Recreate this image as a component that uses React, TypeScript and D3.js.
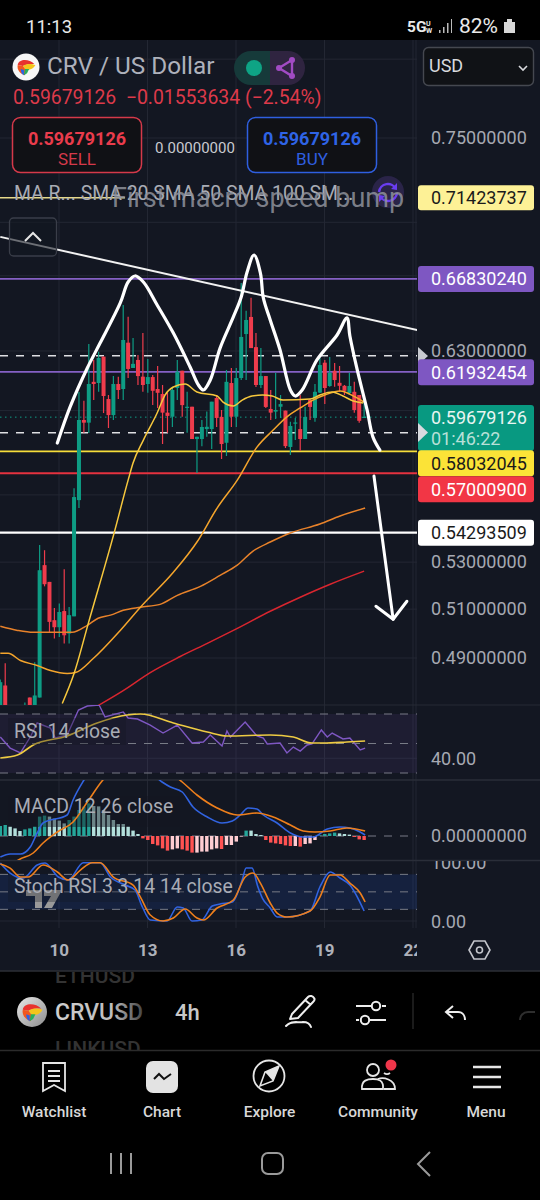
import React from "react";
import * as d3 from "d3";

// ---------- Data (bar index: 0 = the bar at day "10", 18 bars = 3 days on the 4h chart) ----------
const firstBar = -12;
const candleOpen = [
  .4700,.4791,.4580,.4580,.4580,.4650,.4744,.4700,.4744,.5287,.5215,.5054,
  .5025,.5092,.4999,.5070,.5576,.5954,.5941,.6143,.6137,.6271,.6057,.5978,
  .6132,.6107,.6343,.6213,.6254,.6169,.6132,.6167,.6107,.6082,.5990,.5970,
  .6112,.6199,.6013,.6019,.5862,.5862,.5910,.5910,.6062,.5969,.5844,.6137,
  .5970,.6162,.6388,.6478,.6320,.6127,.6172,.6008,.5995,.6019,.6000,.5824,
  .5936,.5910,.5862,.6052,.5964,.6089,.6240,.6122,.6199,.6138,.6123,.6087,
  .6093,.6077,.5964];
const candleHigh = [
  .4815,.4879,.4660,.4660,.4660,.4725,.4744,.4883,.5375,.5352,.5215,.5105,
  .5124,.5269,.5109,.5631,.6092,.6049,.6336,.6254,.6296,.6271,.6077,.6172,
  .6169,.6542,.6479,.6367,.6279,.6393,.6259,.6177,.6223,.6127,.6087,.6118,
  .6254,.6199,.6093,.6019,.5873,.5954,.5995,.6044,.6077,.6003,.6203,.6213,
  .6213,.6661,.6511,.6580,.6393,.6315,.6172,.6102,.6189,.6077,.6000,.5946,
  .5964,.6077,.6019,.6057,.6132,.6264,.6254,.6269,.6239,.6223,.6127,.6189,
  .6143,.6077,.6044];
const candleLow = [
  .4660,.4660,.4520,.4520,.4520,.4620,.4650,.4680,.4744,.5196,.5005,.4979,
  .4985,.4959,.4959,.5070,.5540,.5892,.5891,.6052,.6093,.5988,.5915,.5954,
  .6057,.6052,.6162,.6213,.6127,.6093,.6088,.6027,.6013,.5838,.5892,.5920,
  .6052,.5970,.5892,.5862,.5701,.5828,.5873,.5814,.5920,.5767,.5781,.5920,
  .5920,.6152,.6152,.6315,.6117,.6112,.6013,.5954,.5959,.5964,.5819,.5786,
  .5857,.5806,.5862,.5954,.5946,.6087,.6032,.6118,.6118,.6093,.6077,.6077,
  .5990,.5941,.5964];
const candleClose = [
  .4804,.4700,.4620,.4620,.4620,.4700,.4700,.4752,.5265,.5205,.5047,.5025,
  .5088,.4992,.5075,.5590,.5954,.5941,.6132,.6132,.6264,.6072,.5978,.6132,
  .6102,.6357,.6208,.6234,.6172,.6127,.6167,.6098,.6088,.5990,.5974,.6102,
  .6194,.6027,.6019,.5862,.5873,.5920,.5921,.6044,.5964,.5838,.6143,.5970,
  .6162,.6373,.6462,.6315,.6127,.6172,.6018,.5990,.6003,.6032,.5828,.5925,
  .5942,.5862,.5969,.6018,.6093,.6228,.6112,.6188,.6152,.6123,.6098,.6122,
  .6003,.5950,.5970];

const sma20Bars = [.6,3,5.9,11.2,14,15,17.1,19.9,21.5,23.2,25.6,28,32.1,33.3,35.4,37.2,39.2,41.3,43.3,45.5,51,53,55.5,57.7,59.8,61.8];
const sma20Vals = [.4721,.4838,.5041,.5432,.5668,.5748,.5857,.5988,.6077,.6117,.6132,.6092,.6072,.6042,.6023,.6052,.6072,.6077,.6072,.6052,.6057,.6077,.6092,.6072,.6047,.6037];
const sma50Bars = [-12,-10.4,-7.9,-4.5,-1.8,1.6,3.3,6.9,12.4,16.5,23.2,28,32.1,36.2,40.2,43.5,46.3,49,51.6,54,57.1,60.2,62];
const sma50Vals = [.4919,.4919,.4890,.4870,.4850,.4838,.4842,.4898,.5012,.5108,.5256,.5388,.5540,.5668,.5823,.5905,.5969,.6013,.6052,.6077,.6097,.6067,.6042];
const sma100Bars = [-12,-8.5,-5.3,-1.2,2.6,5.7,7.9,10.4,13,16.5,20.5,24,28.7,32.7,36.2,39.4,42.9,47,53,57.1,62.2];
const sma100Vals = [.5029,.5012,.5004,.5004,.5004,.5033,.5062,.5075,.5095,.5108,.5120,.5158,.5196,.5243,.5287,.5348,.5388,.5428,.5468,.5504,.5540];
const sma200Bars = [7.9,13,18.5,24.6,30.1,35.4,42.9,49,55.1,62];
const sma200Vals = [.4713,.4771,.4842,.4906,.4959,.5012,.5091,.5150,.5205,.5261];

const drawnCurveBars = [-.4,2.2,5.7,8.3,12.4,14,15.4,17.1,19.9,23.2,26.6,28.3,29.3,30.7,32.7,35.4,37,38.2,39.6,40.9,41.5,42.9,44.9,47,48,49.4,52.4,56.5,58.5,59.1,60.6,62.6,63.8,65.2];
const drawnCurveVals = [.5843,.6018,.6213,.6341,.6553,.6666,.6699,.6666,.6542,.6393,.6218,.6127,.6102,.6152,.6315,.6478,.6585,.6721,.6815,.6715,.6580,.6462,.6305,.6102,.6072,.6102,.6254,.6383,.6473,.6378,.6203,.6003,.5871,.5809];
const trendBars = [-12,72.8];
const trendVals = [.6917,.6409];
const arrowBars = [64,67.9];
const arrowVals = [.5687,.5058];
const arrowHeadBars = [64.4,67.9,70.7];
const arrowHeadVals = [.5112,.5058,.5133];

const rsiBars = [-12,-10,-7.9,-5.9,-4.5,-1.8,-.8,1.6,3.9,5.7,8.1,9.3,13,14,15.9,18.5,21.1,24,27,29.3,30.7,33.1,34.1,34.8,37.8,40.2,41.5,42.3,44.9,46.3,47.6,49,50.4,51.4,53.3,54.5,55.5,57.7,59.1,61.2,62.2];
const rsiVals = [54.4,46.9,43.6,54.4,63.9,60.5,53.7,55.8,72.7,75.4,76.1,68,71.4,67.3,66.6,62.5,57.1,62.5,50.3,51,55.8,48.3,58.5,54.4,64.6,55.1,53.7,49.7,50.3,43.6,47.6,44.9,49,49.7,59.2,54.4,57.1,53.1,53.7,45.6,46.9];
const rsiMaBars = [-12,-8.5,-5.3,1.6,7.7,13.8,16.5,23.2,30.1,34.1,42.9,47.6,51.4,53.7,58.5,62.2];
const rsiMaVals = [40.2,42.2,49,55.1,63.9,69.3,70,63.9,57.8,55.1,55.8,54.4,50.3,50.3,51,51.7];

// MACD values, in thousandths
const macdHist = [
  5,5.5,4.7,3.8,2.5,3.3,3.8,4.7,9.7,10.2,9.7,8.7,
  7.7,6.3,8,9.7,13,14.7,16.3,15,14.8,13,10.5,8,
  6,6,4.7,2.7,1,-1.2,-2,-4,-4.7,-6.2,-7.3,-6.7,
  -6.2,-6.7,-7.3,-8.3,-8.3,-7.8,-7.8,-6.7,-6.2,-6.5,-4.5,-4.5,
  -2.8,-.3,2.7,2.7,1,.5,-2,-3.3,-3.7,-4,-4.7,-5,
  -5,-5.3,-4,-3.7,-2,.3,1,1.3,1.7,1.3,1,.7,
  -.5,-1.7,-2];
const macdBars = [-12,-10,-7.9,-5.9,-4.5,-3.3,1.6,2.8,4.9,12.8,20.9,22.6,25,27.2,30.1,33.1,35.2,36.8,38.4,40.2,41.5,44.3,47,49.6,51.6,54.5,57.1,59.1,61.2,62.2];
const macdVals = [-10.5,-9,-9,-5.5,1.5,6.5,10.5,18,27.5,45.5,27,24.5,22,14.5,9.5,6.5,7.5,10.5,14,13.5,10.5,6.5,1.5,-.5,-.5,3.5,4.5,4,2,.5];
const signalBars = [-12,-8.3,-5.3,-3.3,-.4,2.8,5.7,8.7,16.5,25,28,32.1,36.2,40.2,43.5,47,49.6,52,55.1,58.5,62.2];
const signalVals = [-19.5,-12,-8.5,-3.5,2,7,17,27.5,40.5,27,20.5,14,10.5,11.5,9.5,5.5,2.5,2,2.5,4,2.5];

const stochKBars = [-12,-10,-7.3,-4.5,-2.9,-.2,1.8,4.9,8.3,10.4,13.4,15.4,16.9,18.5,21.9,24,25.2,27,29,31.1,32.7,35.2,37.2,38,39.2,40.4,41.3,42.9,44.3,46.3,51,53,55.1,57.1,59.1,62];
const stochKVals = [99.4,82.3,73.7,96,99.4,75.4,70.3,100,100,75.4,61.7,53.1,24,1.7,0,24,22.3,0,1.7,25.7,29.1,32.6,70.3,90.8,90.8,58.3,39.4,22.3,6.9,6.9,17.1,58.3,84,73.7,61.7,17.1];
const stochDBars = [-12,-10,-7.9,-6.3,-3.3,-.4,1.8,4.3,6.7,8.3,11,15,16.5,18.5,21.1,23.2,25.6,28,29.3,32.1,35.4,37.8,39.4,40.9,42.9,44.3,46.3,51,53,55.1,57.1,59.1,61.2,62.2];
const stochDVals = [97.7,90.8,75.4,75.4,96,84,70.3,87.4,100,100,75.4,61.7,41.1,10.3,0,5.1,20.6,5.1,1.7,22.3,36,75.4,82.3,65.1,30.9,13.7,6.9,17.1,41.1,78.8,78.8,65.1,48,32.6];

const dayLabels = ["10","13","16","19","22"];
const dayBars = [0,18,36,54,72];
const priceTicks = [0.75,0.63,0.53,0.51,0.49];
const priceGrid = [0.8,0.75,0.7,0.67,0.63,0.6,0.56,0.53,0.51,0.49];
const solidLevelVals = [0.6683024,0.61932454,0.58032045,0.570009,0.54293509];
const solidLevelColors = ["#8560c4","#8560c4","#f6dd3a","#e5323f","#ffffff"];
const dashedLevels = [0.6276,0.5892];
const currentPrice = 0.59679126;

// ---------- Scales ----------
const x = d3.scaleLinear().domain([firstBar, 72]).range([0.3, 413.3]);
const yP = d3.scaleLog().domain([0.75, 0.49]).range([138, 658]);
const yRsi = d3.scaleLinear().domain([30, 70]).range([773, 714]);
const yMacd = d3.scaleLinear().domain([0, 10]).range([836, 816]);
const yStoch = d3.scaleLinear().domain([0, 100]).range([921, 862.7]);

const pathOf = (xs: number[], vs: number[], y: any, curve: any = d3.curveLinear) =>
  d3.line<number>().x((b) => x(b)).y((_, i) => y(vs[i])).curve(curve)(xs) as string;

const FONT = "Roboto, sans-serif";
const BG = "#131722";
const GRID = "#232733";
const AXIS = "#a6a9b2";
const UP = "#0e9c84";
const DOWN = "#ef3c4c";
const PANEL_R = 417;

const T = (p: any) => <text fontFamily={FONT} {...p} />;

function Logo({ cx, cy, r, silver }: { cx: number; cy: number; r: number; silver?: boolean }) {
  const k = r / 13;
  return (
    <g transform={`translate(${cx},${cy}) scale(${k})`}>
      <circle r={13} fill={silver ? "url(#silver)" : "#f7f7f7"} />
      <path d="M-8,-2 C-7,-8 3,-8 8,-3 C5,-3 0,-3 -3,-1 Z" fill="#e8322e" />
      <path d="M-3,-1 C1,-4 6,-3 9,-2 C8,1 4,3 0,3 Z" fill="#f4c51c" />
      <path d="M-8,-2 L-3,-1 L0,3 L-1,8 C-5,7 -9,3 -8,-2 Z" fill="#f2571e" />
      <path d="M-1,2 L3,2 L1,6 L-2,8 Z" fill="#27ae60" />
      <path d="M-5,2 L-2,3 L-2,8 C-4,7 -5,5 -5,2 Z" fill="#2a63e6" />
    </g>
  );
}

function PriceLabel({ v, bg, fg, dy = 0, h = 26 }: { v: string; bg: string; fg: string; dy?: number; h?: number }) {
  const cy = yP(parseFloat(v)) + dy;
  return (
    <g>
      <rect x={418} y={cy - h / 2} width={116} height={h} rx={3} fill={bg} />
      <T x={431} y={cy + 6.3} fontSize={18} fill={fg}>{v}</T>
    </g>
  );
}

export default function App() {
  const barIdx = candleOpen.map((_, i) => i + firstBar);
  return (
    <svg width={540} height={1200} viewBox="0 0 540 1200"
      style={{ position: "fixed", left: 0, top: 0, display: "block", background: "#000" }}>
      <defs>
        <clipPath id="main"><rect x={0} y={40} width={PANEL_R} height={665} /></clipPath>
        <clipPath id="rsi"><rect x={0} y={705} width={PANEL_R} height={75} /></clipPath>
        <clipPath id="macd"><rect x={0} y={780} width={PANEL_R} height={80} /></clipPath>
        <clipPath id="stoch"><rect x={0} y={860} width={PANEL_R} height={75} /></clipPath>
        <clipPath id="axisR"><rect x={418} y={861} width={122} height={75} /></clipPath>
        <clipPath id="days"><rect x={0} y={935} width={PANEL_R} height={30} /></clipPath>
        <clipPath id="tool"><rect x={0} y={972} width={170} height={78} /></clipPath>
        <linearGradient id="fade" x1="0" x2="1" y1="0" y2="0">
          <stop offset="0" stopColor="#cfcfcf" />
          <stop offset="0.65" stopColor="#bdbdbd" />
          <stop offset="1" stopColor="#444" />
        </linearGradient>
        <linearGradient id="silver" x1="0" x2="1" y1="0" y2="1">
          <stop offset="0" stopColor="#e8e8e8" />
          <stop offset="1" stopColor="#8c8c8c" />
        </linearGradient>
      </defs>

      {/* chart background */}
      <rect x={0} y={40} width={540} height={931} fill={BG} />

      {/* grid */}
      {dayBars.map((b) => (
        <line key={b} x1={x(b) - 0.3} x2={x(b) - 0.3} y1={40} y2={928} stroke={GRID} strokeWidth={1} />
      ))}
      <line x1={PANEL_R - 1} x2={PANEL_R - 1} y1={40} y2={928} stroke={GRID} />
      {priceGrid.map((p) => (
        <line key={p} x1={0} x2={PANEL_R} y1={yP(p)} y2={yP(p)} stroke={GRID} />
      ))}
      <line x1={0} x2={540} y1={705} y2={705} stroke="#262a35" />
      <line x1={0} x2={540} y1={780} y2={780} stroke="#2a2e39" strokeWidth={1.5} />
      <line x1={0} x2={540} y1={860.5} y2={860.5} stroke="#2a2e39" strokeWidth={1.5} />
      <line x1={0} x2={PANEL_R} y1={yRsi(40)} y2={yRsi(40)} stroke={GRID} />
      <line x1={0} x2={PANEL_R} y1={yStoch(0)} y2={yStoch(0)} stroke={GRID} />

      {/* main pane */}
      <g clipPath="url(#main)">
        {solidLevelVals.map((v, i) => (
          <line key={v} x1={0} x2={PANEL_R} y1={yP(v)} y2={yP(v)} stroke={solidLevelColors[i]}
            strokeWidth={i === 4 ? 2.2 : 1.8} />
        ))}
        {dashedLevels.map((v) => (
          <line key={v} x1={0} x2={PANEL_R} y1={yP(v)} y2={yP(v)} stroke="#dfe0e3" strokeWidth={1.5} strokeDasharray="8 8" />
        ))}
        <line x1={0} x2={PANEL_R} y1={yP(currentPrice)} y2={yP(currentPrice)} stroke={UP} strokeWidth={1} strokeDasharray="1.5 3.5" />
        <line x1={0} x2={125} y1={yP(0.71423737)} y2={yP(0.71423737)} stroke="#e6d98a" strokeWidth={1.5} />

        {barIdx.map((b, i) => {
          const o = candleOpen[i], c = candleClose[i];
          const col = c >= o ? UP : DOWN;
          const top = yP(Math.max(o, c)), bot = yP(Math.min(o, c));
          return (
            <g key={b}>
              <line x1={x(b)} x2={x(b)} y1={yP(candleHigh[i])} y2={yP(candleLow[i])} stroke={col} strokeWidth={1.2} />
              <rect x={x(b) - 2} width={4} y={top} height={Math.max(bot - top, 1)} fill={col} />
            </g>
          );
        })}

        <path d={pathOf(sma200Bars, sma200Vals, yP, d3.curveMonotoneX)} fill="none" stroke="#d9262f" strokeWidth={1.5} />
        <path d={pathOf(sma100Bars, sma100Vals, yP, d3.curveMonotoneX)} fill="none" stroke="#e8822a" strokeWidth={1.5} />
        <path d={pathOf(sma50Bars, sma50Vals, yP, d3.curveMonotoneX)} fill="none" stroke="#f5a52c" strokeWidth={1.5} />
        <path d={pathOf(sma20Bars, sma20Vals, yP, d3.curveMonotoneX)} fill="none" stroke="#f7c83d" strokeWidth={1.5} />

        <path d={pathOf(trendBars, trendVals, yP)} fill="none" stroke="#f2f2f2" strokeWidth={2} />
        <path d={pathOf(drawnCurveBars, drawnCurveVals, yP, d3.curveCatmullRom)} fill="none" stroke="#fff" strokeWidth={3.2} strokeLinecap="round" strokeLinejoin="round" />
        <path d={pathOf(arrowBars, arrowVals, yP)} fill="none" stroke="#fff" strokeWidth={3} strokeLinecap="round" />
        <path d={pathOf(arrowHeadBars, arrowHeadVals, yP)} fill="none" stroke="#fff" strokeWidth={3} strokeLinecap="round" strokeLinejoin="round" />
      </g>

      {/* legend, top */}
      <circle cx={388} cy={192} r={16} fill="#2a2448" />
      <path d="M379,192 A9,9 0 0 1 396,189" fill="none" stroke="#6a3df0" strokeWidth={2.4} />
      <path d="M397,193 A9,9 0 0 1 380,196" fill="none" stroke="#6a3df0" strokeWidth={2.4} />
      <path d="M397,183 L397,190 L391,189 Z M379,202 L379,195 L385,196 Z" fill="#6a3df0" />
      <T x={14} y={199.5} fontSize={19.4} fill="#a9acb5">MA R...  SMA 20 SMA 50 SMA 100 SM...</T>
      <T x={112} y={207} fontSize={27} fill="#8f929c" fillOpacity={0.85}>First macro speed bump</T>
      <rect x={9.5} y={218} width={47} height={38} rx={4} fill={BG} fillOpacity={0.6} stroke="#3a3e49" strokeWidth={1.3} />
      <path d="M25,241 L33,233 L41,241" fill="none" stroke="#e6e6e6" strokeWidth={2} />

      {/* RSI */}
      <rect x={0} y={yRsi(70)} width={PANEL_R} height={yRsi(30) - yRsi(70)} fill="#7e57c2" fillOpacity={0.1} />
      {[70, 50, 30].map((v) => (
        <line key={v} x1={0} x2={PANEL_R} y1={yRsi(v)} y2={yRsi(v)} stroke="#787b86" strokeDasharray="8 8" />
      ))}
      <g clipPath="url(#rsi)">
        <path d={pathOf(rsiBars, rsiVals, yRsi)} fill="none" stroke="#7e57c2" strokeWidth={1.4} />
        <path d={pathOf(rsiMaBars, rsiMaVals, yRsi, d3.curveMonotoneX)} fill="none" stroke="#eecb43" strokeWidth={1.6} />
      </g>
      <rect x={8} y={718} width={118} height={27} fill={BG} fillOpacity={0.35} />
      <T x={14} y={738} fontSize={19.4} fill="#a9acb5">RSI 14 close</T>

      {/* MACD */}
      <line x1={0} x2={PANEL_R} y1={yMacd(0)} y2={yMacd(0)} stroke="#787b86" strokeDasharray="8 8" />
      <g clipPath="url(#macd)">
        {macdHist.map((v, i) => {
          const prev = i > 0 ? macdHist[i - 1] : v - 1;
          const col = v >= 0 ? (v > prev ? "#26a69a" : "#b2dfdb") : (v < prev ? "#ff5252" : "#ffcdd2");
          const y0 = yMacd(0), y1 = yMacd(v);
          return <rect key={i} x={x(i + firstBar) - 1.7} width={3.4} y={Math.min(y0, y1)} height={Math.abs(y1 - y0)} fill={col} />;
        })}
        <rect x={8} y={796} width={172} height={31} fill={BG} fillOpacity={0.45} />
        <path d={pathOf(macdBars, macdVals, yMacd, d3.curveMonotoneX)} fill="none" stroke="#3163e0" strokeWidth={1.6} />
        <path d={pathOf(signalBars, signalVals, yMacd, d3.curveMonotoneX)} fill="none" stroke="#ee7f1c" strokeWidth={1.6} />
      </g>
      <T x={14} y={813} fontSize={19.4} fill="#a9acb5">MACD 12 26 close</T>

      {/* Stoch RSI */}
      <rect x={0} y={yStoch(80)} width={PANEL_R} height={yStoch(20) - yStoch(80)} fill="#2962ff" fillOpacity={0.13} />
      {[80, 50, 20].map((v) => (
        <line key={v} x1={0} x2={PANEL_R} y1={yStoch(v)} y2={yStoch(v)} stroke="#787b86" strokeDasharray="8 8" />
      ))}
      <g clipPath="url(#stoch)">
        <path d="M26,890 H42 V908 H35 V896 H26 Z M44,890 H62 L52,908 H44 L51,896 H44 Z" fill="#9a9a9a" />
        <rect x={8} y={875} width={232} height={27} fill={BG} fillOpacity={0.3} />
        <path d={pathOf(stochKBars, stochKVals, yStoch, d3.curveMonotoneX)} fill="none" stroke="#3163e0" strokeWidth={1.6} />
        <path d={pathOf(stochDBars, stochDVals, yStoch, d3.curveMonotoneX)} fill="none" stroke="#ee7f1c" strokeWidth={1.6} />
      </g>
      <T x={14} y={893} fontSize={19.4} fill="#a9acb5">Stoch RSI 3 3 14 14 close</T>

      {/* right axis */}
      {priceTicks.map((p) => (
        <T key={p} x={431} y={yP(p) + 6.3} fontSize={18} fill={AXIS}>{p.toFixed(8)}</T>
      ))}
      <path d="M418,347 L428,356 L418,365 Z" fill="#c8cad0" />
      <PriceLabel v="0.71423737" bg="#fdf196" fg="#1a1a1a" dy={0} h={25} />
      <PriceLabel v="0.66830240" bg="#7e57c2" fg="#fff" />
      <PriceLabel v="0.61932454" bg="#7e57c2" fg="#fff" dy={0.5} />
      <rect x={418} y={405} width={116} height={46} rx={3} fill="#089981" />
      <T x={431} y={424} fontSize={18} fill="#e8f5f2">{currentPrice.toFixed(8)}</T>
      <T x={431} y={445} fontSize={18} fill="#b8e0d8">01:46:22</T>
      <path d="M418,423 L428,432.5 L418,442 Z" fill="#d8dadf" />
      <PriceLabel v="0.58032045" bg="#fbe337" fg="#1a1a1a" dy={12} />
      <PriceLabel v="0.57000900" bg="#f23645" fg="#fff" dy={16} />
      <PriceLabel v="0.54293509" bg="#fff" fg="#1a1a1a" />
      <T x={431} y={yRsi(40) + 6.3} fontSize={18} fill={AXIS}>40.00</T>
      <T x={431} y={yMacd(0) + 6.3} fontSize={18} fill={AXIS}>0.00000000</T>
      <g clipPath="url(#axisR)">
        <T x={431} y={yStoch(100) + 6.3} fontSize={18} fill={AXIS}>100.00</T>
      </g>
      <T x={431} y={yStoch(0) + 7} fontSize={18} fill={AXIS}>0.00</T>

      {/* day axis */}
      <g clipPath="url(#days)">
        {dayLabels.map((d, i) => (
          <T key={d} x={x(dayBars[i])} y={956} fontSize={17} fontWeight={700} fill="#aeb1ba" textAnchor="middle">{d}</T>
        ))}
      </g>
      <path d="M469,950 L474,941 L485,941 L490,950 L485,959 L474,959 Z" fill="none" stroke="#c3c5cb" strokeWidth={1.6} />
      <circle cx={479.5} cy={950} r={3} fill="none" stroke="#c3c5cb" strokeWidth={1.6} />

      {/* header */}
      <Logo cx={26} cy={67} r={13.5} />
      <T x={47} y={74} fontSize={24.3} fill="#aeb1bb">CRV / US Dollar</T>
      <path d="M251,51 H270 V85 H251 A17,17 0 0 1 251,51 Z" fill="#163a3a" />
      <path d="M270,51 H288 A17,17 0 0 1 288,85 H270 Z" fill="#2f2440" />
      <circle cx={254} cy={68} r={8} fill="#0ea485" />
      <path d="M292,60 L279,68 L292,76 Z" fill="none" stroke="#a24bc4" strokeWidth={2.4} />
      <circle cx={292} cy={60} r={3} fill="#a24bc4" />
      <circle cx={279} cy={68} r={3} fill="#a24bc4" />
      <circle cx={292} cy={76} r={3} fill="#a24bc4" />
      <rect x={423.5} y={47.5} width={110} height={38} rx={5} fill="#101216" stroke="#454850" strokeWidth={1.4} />
      <T x={429} y={72} fontSize={18} fill="#d8d9dd">USD</T>
      <path d="M519,66 L523,70 L527,66" fill="none" stroke="#d8d9dd" strokeWidth={1.6} />
      <T x={13} y={104} fontSize={19.4} fill="#dd3a4a" xmlSpace="preserve">0.59679126  −0.01553634 (−2.54%)</T>

      <rect x={12.5} y={117.5} width={129} height={55} rx={8} fill="#101115" stroke="#d5394a" strokeWidth={1.5} />
      <T x={77} y={145} fontSize={18} fontWeight={700} fill="#ea3c4c" textAnchor="middle">0.59679126</T>
      <T x={77} y={165} fontSize={17} fill="#d5394a" textAnchor="middle">SELL</T>
      <T x={195} y={153} fontSize={15} fill="#c8cad0" textAnchor="middle">0.00000000</T>
      <rect x={247.5} y={117.5} width={129} height={55} rx={8} fill="#101115" stroke="#2f5fe0" strokeWidth={1.5} />
      <T x={312} y={145} fontSize={18} fontWeight={700} fill="#2f64e6" textAnchor="middle">0.59679126</T>
      <T x={312} y={165} fontSize={17} fill="#2f5fe0" textAnchor="middle">BUY</T>

      {/* status bar */}
      <T x={26} y={33} fontSize={18.5} fill="#eaeaea">11:13</T>
      <T x={407} y={32} fontSize={15.5} fontWeight={700} fill="#eaeaea">5G</T>
      <T x={426} y={26} fontSize={7} fontWeight={700} fill="#eaeaea">U</T>
      <T x={426} y={33} fontSize={7} fontWeight={700} fill="#eaeaea">W</T>
      <path d="M439,30 h1.5 v3 h-1.5 Z M443,27 h1.5 v6 h-1.5 Z M447,23 h1.5 v10 h-1.5 Z M451,19 h1 v14 h-1 Z" fill="#bbb" />
      <T x={459} y={33} fontSize={21} fill="#eaeaea">82%</T>
      <path d="M504,22 h3 v-3 h5 v3 h3 v11 h-11 Z" fill="#d8d8d8" />

      {/* toolbar */}
      <line x1={0} x2={540} y1={971} y2={971} stroke="#2c2f36" strokeWidth={1.5} />
      <g clipPath="url(#tool)">
        <T x={55} y={983} fontSize={21} fontWeight={500} fill="#333">ETHUSD</T>
        <T x={55} y={1056} fontSize={21} fontWeight={500} fill="#333">LINKUSD</T>
      </g>
      <Logo cx={32} cy={1012} r={15} silver />
      <T x={55} y={1020} fontSize={23} fontWeight={500} fill="url(#fade)">CRVUSD</T>
      <T x={175} y={1020} fontSize={22} fontWeight={500} fill="#c8c8c8">4h</T>
      <path d="M292,1014 L308,997 C310,995 313,996 314,998 C315,999 314,1001 313,1002 L298,1018 L290,1019 Z M305,1000 L311,1005"
        fill="none" stroke="#eee" strokeWidth={2} strokeLinejoin="round" />
      <path d="M286,1026 C291,1020 298,1023 303,1022 C307,1022 310,1024 311,1027" fill="none" stroke="#eee" strokeWidth={2} strokeLinecap="round" />
      <path d="M356,1006 H371 M382,1006 H386 M356,1020 H359 M370,1020 H386" stroke="#eee" strokeWidth={2} />
      <circle cx={376} cy={1006} r={4.2} fill="none" stroke="#eee" strokeWidth={2} />
      <circle cx={365} cy={1020} r={4.2} fill="none" stroke="#eee" strokeWidth={2} />
      <line x1={413} x2={413} y1={993} y2={1029} stroke="#2a2a2a" strokeWidth={1.3} />
      <path d="M453,1006 L446,1012 L453,1018 M446,1012 H458 C463,1012 465,1016 465,1020" fill="none" stroke="#eee" strokeWidth={2} />
      <path d="M535,1012 H528 C523,1012 520,1016 520,1020" fill="none" stroke="#2e2e2e" strokeWidth={2} />
      <line x1={0} x2={540} y1={1050.5} y2={1050.5} stroke="#2b2b2b" strokeWidth={1.3} />

      {/* nav */}
      <path d="M43,1063 H65 V1091 L54,1085 L43,1091 Z M48,1071 H60 M48,1076 H60 M48,1081 H60" fill="none" stroke="#e6e6e6" strokeWidth={1.8} />
      <rect x={146} y={1061} width={32} height={32} rx={7} fill="#e3e3e3" />
      <path d="M154,1079 L159,1074 L164,1079 L171,1074" fill="none" stroke="#111" strokeWidth={2} />
      <circle cx={269} cy={1076} r={15.5} fill="none" stroke="#e6e6e6" strokeWidth={1.8} />
      <path d="M279,1066 L273,1081 L260,1086 L265,1072 Z" fill="none" stroke="#e6e6e6" strokeWidth={1.6} />
      <path d="M279,1066 L265,1072 L273,1081 Z" fill="#e6e6e6" />
      <circle cx={373} cy={1070} r={6} fill="none" stroke="#e6e6e6" strokeWidth={1.8} />
      <path d="M362,1089 C361,1080 368,1079 373,1079 C378,1079 384,1080 383,1089 Z M378,1079 C383,1077 395,1079 395,1089 H384" fill="none" stroke="#e6e6e6" strokeWidth={1.8} />
      <path d="M384,1073 A5,5 0 0 0 390,1073" fill="none" stroke="#e6e6e6" strokeWidth={1.8} />
      <circle cx={391} cy={1065} r={5.5} fill="#f0364a" />
      <path d="M473,1067 H501 M473,1077 H501 M473,1087 H501" stroke="#e6e6e6" strokeWidth={2.4} />
      {[["Watchlist", 54], ["Chart", 162], ["Explore", 269.5], ["Community", 378], ["Menu", 486]].map(([t, cx]) => (
        <T key={t as string} x={cx} y={1117} fontSize={15.5} fontWeight={500} fill="#d8d8d8" textAnchor="middle">{t}</T>
      ))}

      {/* system bar */}
      <path d="M111,1153 V1174 M121,1153 V1174 M131,1153 V1174" stroke="#9a9a9a" strokeWidth={2} />
      <rect x={262} y={1153} width={21} height={21} rx={6} fill="none" stroke="#9a9a9a" strokeWidth={2} />
      <path d="M430,1152 L418,1164 L430,1176" fill="none" stroke="#9a9a9a" strokeWidth={2} />
    </svg>
  );
}
